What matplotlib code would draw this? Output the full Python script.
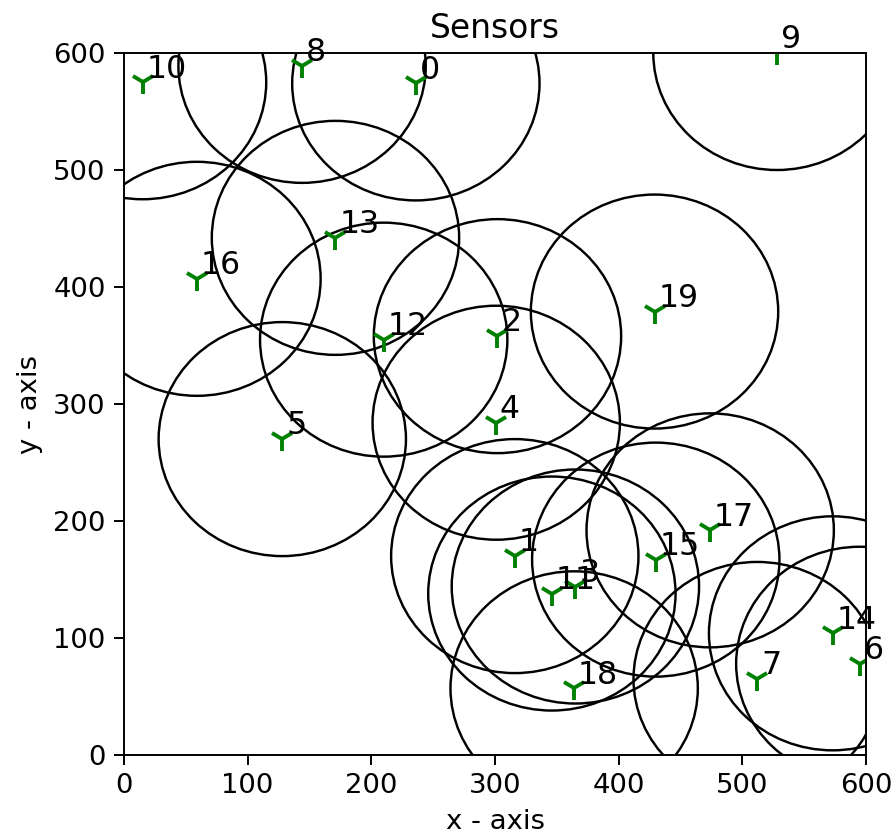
import numpy as np
import matplotlib
matplotlib.use("Agg")
import matplotlib.pyplot as plt
from matplotlib.patches import Circle

# sensor positions, index = sensor id
SENSOR_X = [236, 316, 302, 365, 301, 128, 595, 512, 144, 528,
            15, 346, 210, 171, 573, 430, 59, 474, 364, 429]
SENSOR_Y = [574, 170, 358, 144, 284, 270, 78, 65, 589, 600,
            575, 138, 355, 442, 104, 167, 407, 192, 57, 379]
RADIUS = 100
AREA = 600

DPI = 175
plt.rcParams["xtick.labelsize"] = 11.3
plt.rcParams["ytick.labelsize"] = 11.3
plt.rcParams["axes.labelsize"] = 11.3
plt.rcParams["axes.titlesize"] = 13.5
plt.rcParams["xtick.major.size"] = 4
plt.rcParams["ytick.major.size"] = 4

fig = plt.figure(figsize=(894 / DPI, 840 / DPI), dpi=DPI)
ax = fig.add_axes([124 / 894, 1 - 755 / 840, 742 / 894, 702 / 840])

for i, (x, y) in enumerate(zip(SENSOR_X, SENSOR_Y)):
    ax.add_patch(Circle((x, y), RADIUS, fill=False, edgecolor="black", lw=1.0))
    ax.plot(x, y, marker="1", color="green", ms=10, mew=1.6, ls="none")
    ax.text(x + 3, y + 4, str(i), fontsize=13)

ax.set_xlim(0, AREA)
ax.set_ylim(0, AREA)
ax.set_xlabel("x - axis")
ax.set_ylabel("y - axis")
ax.set_title("Sensors")

fig.savefig("out.png", dpi=DPI)
plt.close(fig)
